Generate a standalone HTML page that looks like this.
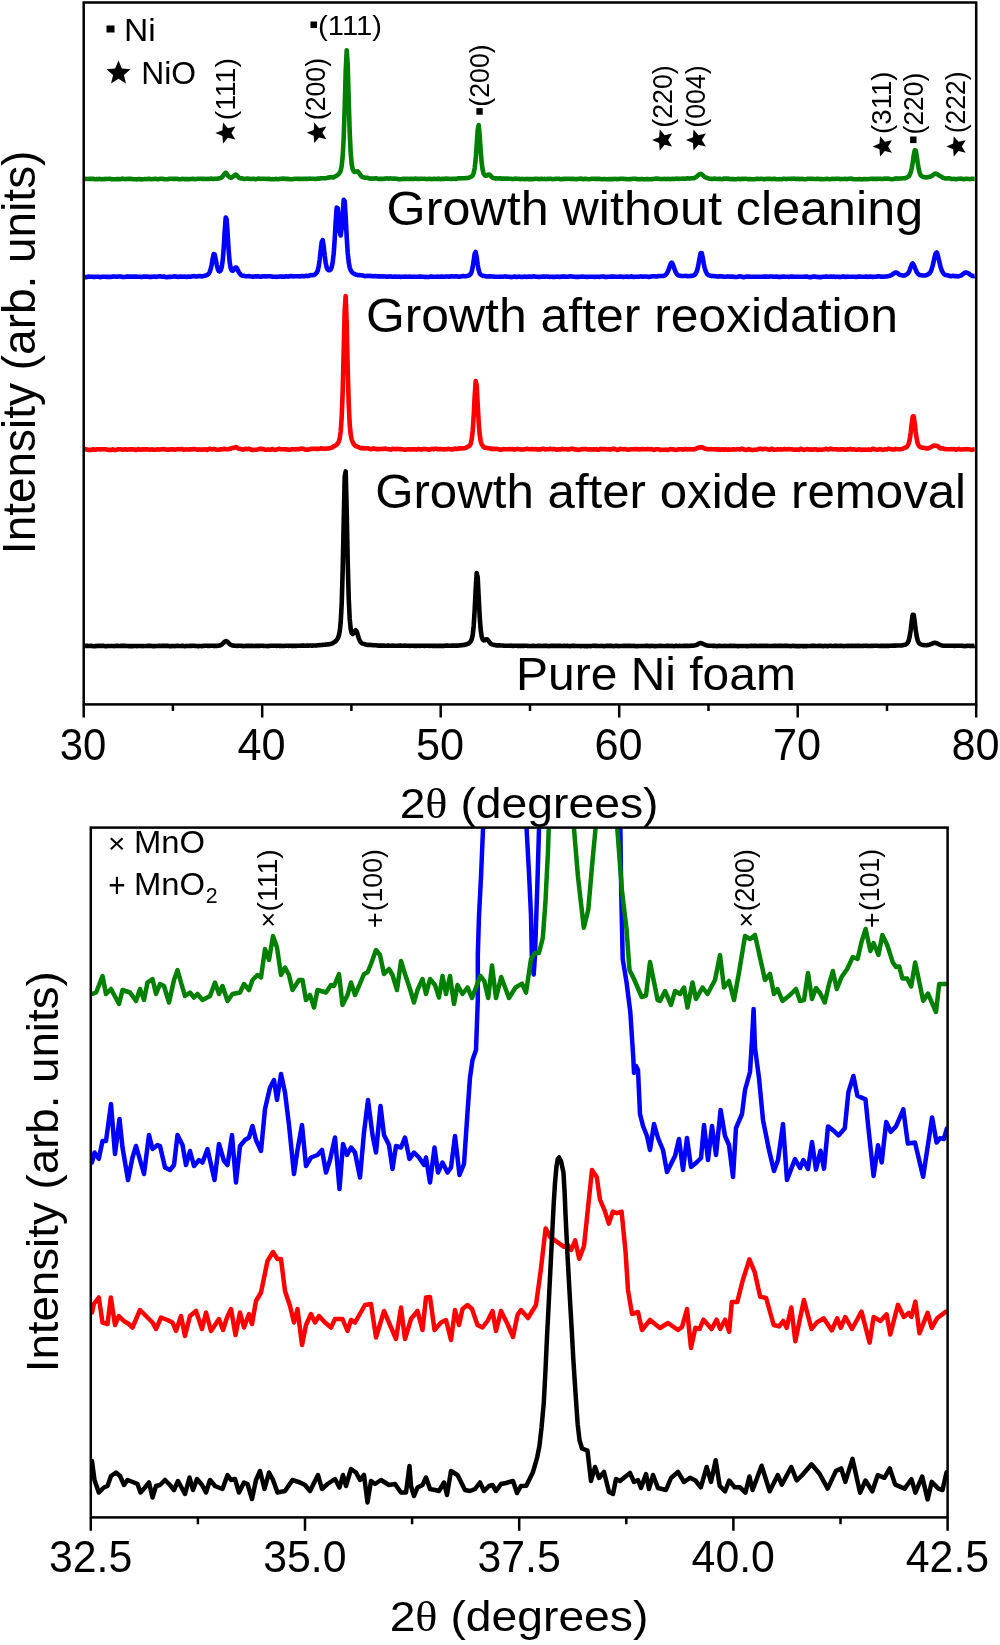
<!DOCTYPE html><html><head><meta charset="utf-8"><style>html,body{margin:0;padding:0;background:#fff;}svg{display:block;will-change:transform;}text{font-family:"Liberation Sans",sans-serif;fill:#000;}</style></head><body>
<svg width="1000" height="1645" viewBox="0 0 1000 1645">
<rect width="1000" height="1645" fill="#fff"/>
<defs><clipPath id="ct"><rect x="83.7" y="2.5" width="892.5" height="701.9"/></clipPath>
<clipPath id="cb"><rect x="90.8" y="827.6" width="856.8" height="689.8"/></clipPath></defs>
<g clip-path="url(#ct)" fill="none" stroke-linejoin="round" stroke-width="4.6">
<path stroke="#008000" d="M84.7 178.8L85.7 178.9L86.7 179.0L87.7 179.0L88.7 179.0L89.7 178.7L90.7 178.7L91.7 179.0L92.7 178.9L93.7 178.9L94.7 179.2L95.7 179.2L96.7 179.1L97.7 179.1L98.7 179.0L99.7 178.9L100.7 179.1L101.7 179.2L102.7 179.1L103.7 179.2L104.7 179.0L105.7 178.9L106.7 179.0L107.7 179.0L108.7 178.8L109.7 178.8L110.7 179.0L111.7 179.1L112.7 179.2L113.7 179.3L114.7 179.3L115.7 179.2L116.7 179.1L117.7 179.1L118.7 179.1L119.7 179.3L120.7 179.2L121.7 178.8L122.7 178.6L123.7 178.9L124.7 179.1L125.7 179.1L126.7 179.0L127.7 178.9L128.7 178.9L129.7 178.9L130.7 178.9L131.7 179.0L132.7 179.1L133.7 179.2L134.7 179.3L135.7 179.3L136.7 179.4L137.7 179.3L138.7 179.1L139.7 179.0L140.7 179.2L141.7 179.4L142.7 179.3L143.7 179.2L144.7 179.0L145.7 179.0L146.7 179.1L147.7 179.0L148.7 178.8L149.7 178.8L150.7 179.2L151.7 179.2L152.7 179.0L153.7 179.0L154.7 178.9L155.7 178.7L156.7 178.9L157.7 179.2L158.7 179.1L159.7 178.9L160.7 178.8L161.7 178.8L162.7 178.9L163.7 179.0L164.7 179.2L165.7 179.3L166.7 179.2L167.7 179.2L168.7 178.9L169.7 178.8L170.7 178.8L171.7 178.7L172.7 178.7L173.7 178.9L174.7 178.9L175.7 178.7L176.7 178.8L177.7 179.0L178.7 179.1L179.7 179.2L180.7 179.2L181.7 179.0L182.7 178.9L183.7 179.0L184.7 179.1L185.7 179.1L186.7 179.0L187.7 179.1L188.7 179.2L189.7 179.1L190.7 179.0L191.7 179.0L192.7 178.8L193.7 178.9L194.7 179.1L195.7 179.1L196.7 178.9L197.7 178.7L198.7 178.8L199.7 178.8L200.7 178.8L201.7 178.9L202.7 178.9L203.7 178.8L204.7 178.9L205.7 179.0L206.7 179.0L207.7 178.9L208.7 179.0L209.7 178.9L210.7 178.6L211.7 178.6L212.7 178.9L213.7 179.0L214.7 178.8L215.7 178.7L216.7 178.7L217.7 178.6L218.7 178.4L219.7 178.3L220.7 178.0L221.7 177.5L222.7 176.3L223.7 174.9L224.7 173.5L225.7 172.7L226.7 173.7L227.7 175.3L228.7 176.4L229.7 177.3L230.7 177.7L231.7 177.5L232.7 176.8L233.7 176.1L234.7 175.2L235.7 174.6L236.7 175.1L237.7 176.3L238.7 177.4L239.7 178.1L240.7 178.4L241.7 178.4L242.7 178.5L243.7 178.9L244.7 179.0L245.7 178.8L246.7 178.6L247.7 178.6L248.7 178.7L249.7 178.8L250.7 179.0L251.7 179.0L252.7 178.8L253.7 178.8L254.7 179.0L255.7 179.1L256.7 179.0L257.7 178.8L258.7 178.6L259.7 178.8L260.7 178.9L261.7 178.8L262.7 178.8L263.7 178.8L264.7 178.8L265.7 179.0L266.7 179.0L267.7 178.7L268.7 178.7L269.7 179.1L270.7 179.3L271.7 179.2L272.7 179.1L273.7 179.2L274.7 179.2L275.7 178.9L276.7 179.0L277.7 179.2L278.7 179.1L279.7 178.9L280.7 178.8L281.7 178.7L282.7 178.6L283.7 178.6L284.7 178.8L285.7 178.9L286.7 178.9L287.7 178.8L288.7 179.0L289.7 179.2L290.7 179.2L291.7 179.3L292.7 179.2L293.7 178.9L294.7 178.7L295.7 178.8L296.7 178.7L297.7 178.7L298.7 178.9L299.7 178.9L300.7 178.9L301.7 179.0L302.7 178.9L303.7 178.7L304.7 178.7L305.7 178.9L306.7 178.9L307.7 178.9L308.7 178.7L309.7 178.6L310.7 178.7L311.7 178.8L312.7 178.7L313.7 178.8L314.7 179.0L315.7 179.0L316.7 178.7L317.7 178.5L318.7 178.6L319.7 178.6L320.7 178.3L321.7 178.2L322.7 178.2L323.7 178.3L324.7 178.2L325.7 178.3L326.7 178.1L327.7 177.8L328.7 177.5L329.7 177.4L330.7 177.3L331.7 177.3L332.7 177.5L333.7 177.2L334.7 176.6L335.7 176.2L336.7 175.6L337.7 174.9L338.7 174.0L339.7 172.8L340.7 170.5L341.7 165.8L342.7 156.1L343.7 137.5L344.7 107.3L345.7 71.3L346.7 50.2L347.7 64.8L348.7 100.0L349.7 132.1L350.7 153.1L351.7 164.2L352.7 169.2L353.7 171.3L354.7 172.0L355.7 171.8L356.7 171.2L357.7 171.2L358.7 172.4L359.7 174.1L360.7 175.5L361.7 176.5L362.7 177.0L363.7 177.3L364.7 177.7L365.7 177.8L366.7 177.8L367.7 177.9L368.7 178.2L369.7 178.5L370.7 178.6L371.7 178.5L372.7 178.6L373.7 178.6L374.7 178.4L375.7 178.4L376.7 178.4L377.7 178.7L378.7 178.9L379.7 178.9L380.7 178.9L381.7 178.9L382.7 178.9L383.7 178.7L384.7 178.6L385.7 178.6L386.7 178.4L387.7 178.5L388.7 178.7L389.7 178.5L390.7 178.4L391.7 178.6L392.7 178.8L393.7 178.6L394.7 178.6L395.7 178.8L396.7 178.8L397.7 179.0L398.7 179.1L399.7 179.2L400.7 179.2L401.7 179.1L402.7 178.9L403.7 178.8L404.7 178.9L405.7 179.0L406.7 178.9L407.7 178.8L408.7 179.0L409.7 179.0L410.7 178.7L411.7 178.7L412.7 178.9L413.7 179.0L414.7 178.8L415.7 178.6L416.7 178.7L417.7 178.9L418.7 179.0L419.7 178.9L420.7 178.8L421.7 178.8L422.7 178.8L423.7 178.7L424.7 178.7L425.7 178.9L426.7 179.1L427.7 179.0L428.7 178.9L429.7 178.8L430.7 179.0L431.7 179.1L432.7 179.0L433.7 178.9L434.7 178.9L435.7 179.0L436.7 179.0L437.7 178.7L438.7 178.6L439.7 179.0L440.7 179.1L441.7 178.9L442.7 178.9L443.7 178.9L444.7 178.7L445.7 178.6L446.7 178.6L447.7 178.7L448.7 178.7L449.7 178.7L450.7 178.9L451.7 179.0L452.7 178.8L453.7 178.8L454.7 178.8L455.7 178.9L456.7 178.7L457.7 178.5L458.7 178.3L459.7 178.3L460.7 178.4L461.7 178.3L462.7 178.2L463.7 178.2L464.7 178.2L465.7 178.1L466.7 178.0L467.7 178.0L468.7 177.7L469.7 177.3L470.7 176.9L471.7 176.4L472.7 175.4L473.7 173.0L474.7 168.1L475.7 159.1L476.7 145.0L477.7 129.8L478.7 125.0L479.7 135.6L480.7 150.9L481.7 162.9L482.7 170.1L483.7 173.8L484.7 175.3L485.7 175.9L486.7 175.6L487.7 174.9L488.7 174.5L489.7 174.8L490.7 175.8L491.7 177.0L492.7 177.8L493.7 178.2L494.7 178.2L495.7 178.4L496.7 178.4L497.7 178.5L498.7 178.5L499.7 178.4L500.7 178.4L501.7 178.7L502.7 178.6L503.7 178.6L504.7 178.8L505.7 178.8L506.7 178.5L507.7 178.6L508.7 178.7L509.7 178.7L510.7 178.7L511.7 178.9L512.7 179.1L513.7 178.9L514.7 178.8L515.7 178.6L516.7 178.7L517.7 178.8L518.7 178.8L519.7 179.1L520.7 179.1L521.7 178.9L522.7 179.0L523.7 179.0L524.7 179.1L525.7 179.1L526.7 178.9L527.7 179.0L528.7 179.1L529.7 179.1L530.7 179.0L531.7 179.1L532.7 179.3L533.7 179.1L534.7 178.9L535.7 178.8L536.7 178.8L537.7 178.9L538.7 179.1L539.7 179.1L540.7 178.9L541.7 178.8L542.7 179.0L543.7 179.0L544.7 178.9L545.7 179.1L546.7 179.0L547.7 178.9L548.7 179.0L549.7 178.8L550.7 178.8L551.7 179.0L552.7 179.1L553.7 179.0L554.7 179.0L555.7 178.9L556.7 178.8L557.7 178.7L558.7 178.7L559.7 179.0L560.7 179.2L561.7 179.1L562.7 179.1L563.7 178.9L564.7 178.8L565.7 178.9L566.7 179.0L567.7 178.8L568.7 178.8L569.7 178.9L570.7 179.0L571.7 178.9L572.7 178.8L573.7 178.9L574.7 179.0L575.7 179.1L576.7 179.1L577.7 179.0L578.7 178.8L579.7 178.7L580.7 178.6L581.7 178.8L582.7 179.1L583.7 179.1L584.7 178.8L585.7 178.7L586.7 178.9L587.7 179.1L588.7 179.2L589.7 179.2L590.7 179.0L591.7 178.8L592.7 178.8L593.7 178.8L594.7 178.9L595.7 178.9L596.7 178.8L597.7 178.9L598.7 178.9L599.7 178.9L600.7 179.1L601.7 179.3L602.7 179.3L603.7 179.0L604.7 179.0L605.7 179.1L606.7 179.2L607.7 179.3L608.7 179.1L609.7 179.0L610.7 179.1L611.7 179.1L612.7 179.1L613.7 179.0L614.7 178.9L615.7 179.0L616.7 179.1L617.7 179.0L618.7 179.0L619.7 178.9L620.7 178.8L621.7 178.8L622.7 178.8L623.7 178.9L624.7 179.0L625.7 179.0L626.7 179.1L627.7 179.3L628.7 179.2L629.7 179.0L630.7 179.1L631.7 179.0L632.7 178.8L633.7 178.7L634.7 178.7L635.7 178.7L636.7 179.0L637.7 179.2L638.7 179.1L639.7 179.2L640.7 179.1L641.7 178.9L642.7 179.1L643.7 179.2L644.7 179.3L645.7 179.2L646.7 179.1L647.7 179.0L648.7 179.2L649.7 179.3L650.7 179.2L651.7 179.1L652.7 179.1L653.7 178.9L654.7 178.7L655.7 178.6L656.7 178.6L657.7 178.6L658.7 178.7L659.7 178.9L660.7 179.1L661.7 179.0L662.7 179.0L663.7 179.0L664.7 178.9L665.7 179.0L666.7 179.1L667.7 178.9L668.7 178.9L669.7 179.1L670.7 179.1L671.7 178.9L672.7 178.9L673.7 179.0L674.7 178.9L675.7 178.7L676.7 178.6L677.7 178.7L678.7 178.9L679.7 178.8L680.7 178.7L681.7 178.7L682.7 178.6L683.7 178.6L684.7 178.7L685.7 178.6L686.7 178.4L687.7 178.4L688.7 178.5L689.7 178.6L690.7 178.4L691.7 178.3L692.7 178.3L693.7 178.3L694.7 177.9L695.7 177.3L696.7 176.6L697.7 175.7L698.7 174.8L699.7 174.2L700.7 173.9L701.7 174.2L702.7 175.1L703.7 176.1L704.7 177.0L705.7 177.5L706.7 177.8L707.7 178.1L708.7 178.5L709.7 178.7L710.7 178.8L711.7 178.9L712.7 179.0L713.7 178.8L714.7 178.6L715.7 178.8L716.7 179.0L717.7 179.0L718.7 178.8L719.7 178.7L720.7 179.0L721.7 179.2L722.7 179.0L723.7 178.6L724.7 178.5L725.7 178.6L726.7 178.6L727.7 178.5L728.7 178.7L729.7 179.0L730.7 179.1L731.7 179.0L732.7 179.1L733.7 179.1L734.7 179.2L735.7 179.3L736.7 179.2L737.7 178.8L738.7 178.8L739.7 179.1L740.7 179.1L741.7 178.8L742.7 178.9L743.7 179.0L744.7 178.8L745.7 178.8L746.7 178.9L747.7 179.1L748.7 179.1L749.7 179.0L750.7 179.1L751.7 179.2L752.7 179.2L753.7 179.2L754.7 179.2L755.7 179.0L756.7 178.8L757.7 178.9L758.7 179.0L759.7 179.0L760.7 178.8L761.7 178.8L762.7 179.0L763.7 179.1L764.7 179.1L765.7 179.0L766.7 178.9L767.7 178.9L768.7 178.9L769.7 178.8L770.7 178.9L771.7 179.1L772.7 179.0L773.7 178.8L774.7 178.8L775.7 179.1L776.7 179.2L777.7 179.3L778.7 179.2L779.7 179.1L780.7 179.2L781.7 179.2L782.7 178.9L783.7 178.8L784.7 178.7L785.7 178.9L786.7 179.1L787.7 178.9L788.7 178.8L789.7 178.7L790.7 178.7L791.7 178.9L792.7 178.8L793.7 178.6L794.7 178.7L795.7 179.0L796.7 178.9L797.7 178.7L798.7 178.8L799.7 179.1L800.7 179.0L801.7 178.9L802.7 179.0L803.7 179.1L804.7 179.2L805.7 179.2L806.7 179.0L807.7 178.8L808.7 178.7L809.7 178.8L810.7 178.9L811.7 178.8L812.7 178.8L813.7 179.0L814.7 179.0L815.7 179.0L816.7 178.9L817.7 178.8L818.7 178.9L819.7 179.1L820.7 179.1L821.7 179.1L822.7 179.2L823.7 179.2L824.7 179.0L825.7 179.0L826.7 178.9L827.7 178.9L828.7 179.1L829.7 179.2L830.7 179.1L831.7 178.9L832.7 178.9L833.7 179.0L834.7 179.0L835.7 178.8L836.7 178.8L837.7 178.8L838.7 178.8L839.7 179.0L840.7 179.1L841.7 179.0L842.7 179.0L843.7 179.0L844.7 178.8L845.7 178.9L846.7 179.1L847.7 179.0L848.7 178.8L849.7 178.7L850.7 178.6L851.7 178.8L852.7 179.1L853.7 179.3L854.7 179.3L855.7 179.3L856.7 179.2L857.7 179.2L858.7 179.1L859.7 179.0L860.7 179.2L861.7 179.4L862.7 179.3L863.7 179.1L864.7 179.0L865.7 179.1L866.7 179.3L867.7 179.2L868.7 179.0L869.7 179.0L870.7 178.8L871.7 178.7L872.7 178.9L873.7 178.9L874.7 178.9L875.7 178.9L876.7 178.8L877.7 178.9L878.7 178.8L879.7 178.8L880.7 178.9L881.7 179.0L882.7 179.0L883.7 178.7L884.7 178.6L885.7 178.6L886.7 178.7L887.7 178.5L888.7 178.6L889.7 178.9L890.7 179.1L891.7 179.2L892.7 179.2L893.7 179.0L894.7 178.7L895.7 178.4L896.7 178.5L897.7 178.6L898.7 178.6L899.7 178.5L900.7 178.5L901.7 178.5L902.7 178.3L903.7 178.2L904.7 178.3L905.7 178.0L906.7 177.5L907.7 177.0L908.7 176.4L909.7 174.9L910.7 172.4L911.7 168.6L912.7 162.7L913.7 155.7L914.7 150.3L915.7 150.5L916.7 155.9L917.7 162.9L918.7 168.9L919.7 173.0L920.7 175.2L921.7 176.1L922.7 176.6L923.7 177.0L924.7 177.3L925.7 177.4L926.7 177.4L927.7 177.3L928.7 177.1L929.7 176.8L930.7 176.5L931.7 176.0L932.7 175.3L933.7 174.4L934.7 173.8L935.7 173.6L936.7 174.0L937.7 174.5L938.7 175.3L939.7 175.9L940.7 176.3L941.7 176.9L942.7 177.6L943.7 178.1L944.7 178.3L945.7 178.5L946.7 178.5L947.7 178.4L948.7 178.3L949.7 178.4L950.7 178.7L951.7 179.0L952.7 179.0L953.7 178.9L954.7 179.0L955.7 179.1L956.7 179.1L957.7 178.9L958.7 178.8L959.7 178.8L960.7 178.6L961.7 178.7L962.7 179.0L963.7 179.2L964.7 179.0L965.7 178.8L966.7 178.8L967.7 178.9L968.7 179.0L969.7 179.1L970.7 179.0L971.7 178.8L972.7 178.8L973.7 178.9L974.7 178.9"/>
<path stroke="#0000ff" d="M84.7 277.1L85.7 277.1L86.7 277.1L87.7 276.8L88.7 276.6L89.7 276.7L90.7 276.8L91.7 276.7L92.7 276.7L93.7 276.9L94.7 276.9L95.7 276.7L96.7 276.7L97.7 276.8L98.7 276.8L99.7 277.1L100.7 277.1L101.7 276.9L102.7 276.8L103.7 276.8L104.7 276.7L105.7 276.7L106.7 276.9L107.7 276.7L108.7 276.7L109.7 277.0L110.7 277.0L111.7 276.8L112.7 276.6L113.7 276.5L114.7 276.5L115.7 276.7L116.7 276.8L117.7 276.6L118.7 276.5L119.7 276.5L120.7 276.5L121.7 276.7L122.7 277.0L123.7 277.0L124.7 277.0L125.7 276.8L126.7 276.5L127.7 276.6L128.7 276.8L129.7 276.6L130.7 276.5L131.7 276.6L132.7 276.7L133.7 276.6L134.7 276.5L135.7 276.6L136.7 276.8L137.7 276.8L138.7 276.8L139.7 276.8L140.7 276.9L141.7 277.0L142.7 276.8L143.7 276.5L144.7 276.5L145.7 276.7L146.7 276.6L147.7 276.6L148.7 276.9L149.7 276.9L150.7 276.7L151.7 276.9L152.7 276.8L153.7 276.6L154.7 276.5L155.7 276.7L156.7 276.9L157.7 276.6L158.7 276.4L159.7 276.4L160.7 276.4L161.7 276.7L162.7 276.8L163.7 276.5L164.7 276.6L165.7 277.0L166.7 277.2L167.7 277.0L168.7 276.7L169.7 276.7L170.7 276.9L171.7 276.8L172.7 276.7L173.7 276.5L174.7 276.4L175.7 276.5L176.7 276.8L177.7 276.9L178.7 276.7L179.7 276.6L180.7 276.6L181.7 276.6L182.7 276.7L183.7 276.7L184.7 276.6L185.7 276.7L186.7 276.9L187.7 276.8L188.7 276.6L189.7 276.8L190.7 276.7L191.7 276.4L192.7 276.2L193.7 276.1L194.7 276.3L195.7 276.5L196.7 276.5L197.7 276.4L198.7 276.1L199.7 276.0L200.7 276.3L201.7 276.4L202.7 276.3L203.7 276.1L204.7 275.8L205.7 275.5L206.7 275.1L207.7 274.6L208.7 273.8L209.7 272.0L210.7 269.1L211.7 264.4L212.7 258.6L213.7 254.1L214.7 254.5L215.7 259.2L216.7 264.7L217.7 268.8L218.7 271.0L219.7 271.4L220.7 270.4L221.7 267.3L222.7 260.6L223.7 248.1L224.7 231.2L225.7 217.6L226.7 219.6L227.7 235.0L228.7 251.3L229.7 262.4L230.7 268.3L231.7 270.5L232.7 270.7L233.7 269.8L234.7 268.5L235.7 267.5L236.7 267.9L237.7 269.9L238.7 272.0L239.7 273.5L240.7 274.7L241.7 275.5L242.7 275.7L243.7 275.7L244.7 276.0L245.7 276.2L246.7 276.3L247.7 276.2L248.7 276.1L249.7 276.3L250.7 276.5L251.7 276.5L252.7 276.6L253.7 276.6L254.7 276.4L255.7 276.3L256.7 276.4L257.7 276.4L258.7 276.4L259.7 276.6L260.7 276.7L261.7 276.6L262.7 276.3L263.7 276.3L264.7 276.4L265.7 276.5L266.7 276.3L267.7 276.2L268.7 276.3L269.7 276.3L270.7 276.3L271.7 276.6L272.7 276.8L273.7 276.7L274.7 276.7L275.7 276.8L276.7 276.9L277.7 276.8L278.7 276.7L279.7 276.5L280.7 276.5L281.7 276.6L282.7 276.5L283.7 276.6L284.7 276.6L285.7 276.4L286.7 276.4L287.7 276.6L288.7 276.5L289.7 276.2L290.7 276.1L291.7 276.1L292.7 276.2L293.7 276.4L294.7 276.3L295.7 276.2L296.7 276.2L297.7 276.3L298.7 276.3L299.7 276.4L300.7 276.3L301.7 276.1L302.7 276.1L303.7 276.3L304.7 276.2L305.7 275.8L306.7 275.9L307.7 276.1L308.7 275.9L309.7 275.4L310.7 275.1L311.7 275.2L312.7 275.1L313.7 275.0L314.7 274.6L315.7 273.7L316.7 272.6L317.7 270.6L318.7 266.5L319.7 259.5L320.7 250.4L321.7 242.0L322.7 240.1L323.7 246.3L324.7 255.5L325.7 262.9L326.7 267.4L327.7 269.5L328.7 270.3L329.7 270.3L330.7 269.5L331.7 267.1L332.7 262.2L333.7 253.4L334.7 239.2L335.7 221.5L336.7 207.6L337.7 208.2L338.7 220.4L339.7 232.1L340.7 235.5L341.7 228.3L342.7 213.2L343.7 199.8L344.7 201.1L345.7 217.5L346.7 237.1L347.7 252.4L348.7 262.0L349.7 267.5L350.7 270.2L351.7 271.8L352.7 272.9L353.7 273.5L354.7 274.2L355.7 274.6L356.7 274.7L357.7 275.1L358.7 275.2L359.7 275.1L360.7 275.2L361.7 275.3L362.7 275.6L363.7 275.8L364.7 276.1L365.7 276.1L366.7 275.9L367.7 275.9L368.7 276.0L369.7 275.9L370.7 276.0L371.7 276.1L372.7 276.3L373.7 276.2L374.7 276.1L375.7 276.1L376.7 276.3L377.7 276.4L378.7 276.4L379.7 276.4L380.7 276.4L381.7 276.5L382.7 276.5L383.7 276.4L384.7 276.5L385.7 276.5L386.7 276.6L387.7 276.6L388.7 276.6L389.7 276.5L390.7 276.4L391.7 276.7L392.7 276.8L393.7 276.7L394.7 276.6L395.7 276.6L396.7 276.8L397.7 276.7L398.7 276.6L399.7 276.8L400.7 276.9L401.7 276.8L402.7 276.8L403.7 276.7L404.7 276.5L405.7 276.6L406.7 276.7L407.7 276.8L408.7 276.7L409.7 276.5L410.7 276.7L411.7 276.8L412.7 276.8L413.7 276.8L414.7 276.8L415.7 276.7L416.7 276.7L417.7 276.8L418.7 276.8L419.7 276.5L420.7 276.5L421.7 276.7L422.7 276.7L423.7 276.7L424.7 276.9L425.7 277.0L426.7 276.9L427.7 277.0L428.7 277.0L429.7 276.8L430.7 276.5L431.7 276.5L432.7 276.7L433.7 276.8L434.7 276.7L435.7 276.7L436.7 276.7L437.7 276.6L438.7 276.7L439.7 276.7L440.7 276.6L441.7 276.5L442.7 276.6L443.7 276.7L444.7 276.7L445.7 276.5L446.7 276.5L447.7 276.5L448.7 276.6L449.7 276.6L450.7 276.4L451.7 276.3L452.7 276.4L453.7 276.5L454.7 276.5L455.7 276.3L456.7 276.3L457.7 276.6L458.7 276.8L459.7 276.8L460.7 276.5L461.7 276.3L462.7 276.1L463.7 276.1L464.7 276.2L465.7 276.2L466.7 276.0L467.7 275.9L468.7 275.5L469.7 274.8L470.7 273.8L471.7 271.6L472.7 267.0L473.7 260.4L474.7 253.6L475.7 251.9L476.7 257.4L477.7 264.8L478.7 270.3L479.7 273.4L480.7 274.7L481.7 275.2L482.7 275.7L483.7 276.0L484.7 276.0L485.7 276.2L486.7 276.5L487.7 276.5L488.7 276.4L489.7 276.4L490.7 276.4L491.7 276.5L492.7 276.5L493.7 276.6L494.7 276.8L495.7 276.8L496.7 276.7L497.7 276.7L498.7 276.7L499.7 276.7L500.7 276.6L501.7 276.7L502.7 276.7L503.7 276.6L504.7 276.4L505.7 276.5L506.7 276.6L507.7 276.7L508.7 276.8L509.7 276.9L510.7 277.0L511.7 277.1L512.7 276.9L513.7 276.6L514.7 276.5L515.7 276.7L516.7 277.0L517.7 276.9L518.7 276.6L519.7 276.6L520.7 276.9L521.7 277.0L522.7 276.9L523.7 276.8L524.7 276.6L525.7 276.7L526.7 276.9L527.7 276.8L528.7 276.5L529.7 276.5L530.7 276.8L531.7 276.9L532.7 276.6L533.7 276.3L534.7 276.5L535.7 276.8L536.7 276.8L537.7 276.8L538.7 277.0L539.7 276.9L540.7 276.7L541.7 276.7L542.7 276.5L543.7 276.6L544.7 276.7L545.7 276.5L546.7 276.5L547.7 276.6L548.7 276.8L549.7 276.9L550.7 276.8L551.7 276.8L552.7 276.9L553.7 276.9L554.7 276.9L555.7 276.8L556.7 276.7L557.7 276.6L558.7 276.7L559.7 276.9L560.7 276.7L561.7 276.6L562.7 276.6L563.7 276.5L564.7 276.6L565.7 276.8L566.7 276.8L567.7 276.8L568.7 276.6L569.7 276.4L570.7 276.4L571.7 276.5L572.7 276.6L573.7 276.7L574.7 276.7L575.7 276.9L576.7 276.9L577.7 276.9L578.7 276.9L579.7 276.8L580.7 276.7L581.7 276.6L582.7 276.6L583.7 276.8L584.7 276.7L585.7 276.7L586.7 276.9L587.7 276.9L588.7 276.8L589.7 276.7L590.7 276.7L591.7 276.8L592.7 276.7L593.7 276.7L594.7 276.9L595.7 276.7L596.7 276.7L597.7 276.7L598.7 276.7L599.7 276.9L600.7 276.7L601.7 276.5L602.7 276.5L603.7 276.6L604.7 276.8L605.7 277.1L606.7 276.9L607.7 276.7L608.7 276.7L609.7 276.7L610.7 276.6L611.7 276.6L612.7 276.5L613.7 276.6L614.7 276.6L615.7 276.7L616.7 276.8L617.7 276.8L618.7 276.8L619.7 276.6L620.7 276.5L621.7 276.8L622.7 276.9L623.7 276.9L624.7 276.8L625.7 276.7L626.7 276.6L627.7 276.7L628.7 276.9L629.7 276.8L630.7 276.5L631.7 276.4L632.7 276.8L633.7 277.0L634.7 276.8L635.7 276.8L636.7 276.8L637.7 276.7L638.7 276.7L639.7 276.6L640.7 276.4L641.7 276.5L642.7 276.7L643.7 276.6L644.7 276.5L645.7 276.5L646.7 276.6L647.7 276.7L648.7 276.9L649.7 276.9L650.7 276.6L651.7 276.4L652.7 276.3L653.7 276.2L654.7 276.3L655.7 276.5L656.7 276.5L657.7 276.3L658.7 276.1L659.7 276.0L660.7 276.0L661.7 276.0L662.7 276.0L663.7 275.9L664.7 275.5L665.7 274.7L666.7 273.5L667.7 271.8L668.7 269.5L669.7 266.5L670.7 263.7L671.7 262.7L672.7 264.0L673.7 266.7L674.7 269.7L675.7 272.1L676.7 273.9L677.7 275.0L678.7 275.5L679.7 275.6L680.7 275.9L681.7 276.0L682.7 276.0L683.7 276.0L684.7 276.0L685.7 275.9L686.7 276.0L687.7 276.2L688.7 276.3L689.7 276.1L690.7 275.9L691.7 275.9L692.7 275.8L693.7 275.4L694.7 274.8L695.7 273.5L696.7 271.6L697.7 268.2L698.7 263.0L699.7 257.4L700.7 253.1L701.7 253.0L702.7 257.5L703.7 263.4L704.7 268.1L705.7 271.2L706.7 273.4L707.7 274.7L708.7 275.2L709.7 275.4L710.7 275.8L711.7 276.1L712.7 276.0L713.7 276.0L714.7 276.3L715.7 276.3L716.7 276.4L717.7 276.6L718.7 276.4L719.7 276.3L720.7 276.5L721.7 276.4L722.7 276.5L723.7 276.7L724.7 276.7L725.7 276.7L726.7 276.6L727.7 276.4L728.7 276.5L729.7 276.6L730.7 276.7L731.7 276.6L732.7 276.6L733.7 276.7L734.7 276.9L735.7 277.0L736.7 277.0L737.7 276.8L738.7 276.5L739.7 276.4L740.7 276.4L741.7 276.6L742.7 277.0L743.7 277.1L744.7 277.0L745.7 276.8L746.7 276.5L747.7 276.5L748.7 276.6L749.7 276.8L750.7 276.7L751.7 276.7L752.7 276.8L753.7 276.8L754.7 276.8L755.7 276.8L756.7 276.7L757.7 276.7L758.7 276.8L759.7 276.8L760.7 276.7L761.7 276.8L762.7 276.8L763.7 276.6L764.7 276.5L765.7 276.6L766.7 276.6L767.7 276.8L768.7 276.7L769.7 276.5L770.7 276.5L771.7 276.5L772.7 276.6L773.7 276.7L774.7 276.7L775.7 276.6L776.7 276.6L777.7 276.8L778.7 276.9L779.7 276.9L780.7 276.9L781.7 276.7L782.7 276.5L783.7 276.6L784.7 276.8L785.7 276.8L786.7 276.7L787.7 276.8L788.7 276.9L789.7 276.8L790.7 276.6L791.7 276.6L792.7 276.5L793.7 276.7L794.7 276.8L795.7 276.7L796.7 276.7L797.7 276.8L798.7 276.8L799.7 276.8L800.7 276.8L801.7 276.8L802.7 276.8L803.7 276.8L804.7 276.8L805.7 276.6L806.7 276.5L807.7 276.8L808.7 277.0L809.7 277.1L810.7 277.1L811.7 277.0L812.7 276.6L813.7 276.5L814.7 276.6L815.7 276.8L816.7 276.9L817.7 276.9L818.7 277.1L819.7 277.1L820.7 277.1L821.7 277.0L822.7 276.8L823.7 276.7L824.7 276.8L825.7 276.6L826.7 276.5L827.7 276.8L828.7 276.8L829.7 276.7L830.7 276.5L831.7 276.6L832.7 276.7L833.7 276.6L834.7 276.8L835.7 276.9L836.7 276.8L837.7 276.8L838.7 276.9L839.7 276.9L840.7 277.0L841.7 276.8L842.7 276.5L843.7 276.5L844.7 276.8L845.7 276.9L846.7 276.7L847.7 276.6L848.7 276.7L849.7 276.8L850.7 276.8L851.7 276.8L852.7 276.7L853.7 276.7L854.7 276.8L855.7 277.0L856.7 276.9L857.7 276.6L858.7 276.5L859.7 276.6L860.7 276.8L861.7 276.8L862.7 276.7L863.7 276.7L864.7 276.8L865.7 276.6L866.7 276.6L867.7 276.9L868.7 276.8L869.7 276.6L870.7 276.5L871.7 276.8L872.7 276.9L873.7 276.7L874.7 276.7L875.7 276.8L876.7 276.6L877.7 276.4L878.7 276.3L879.7 276.5L880.7 276.6L881.7 276.6L882.7 276.8L883.7 276.7L884.7 276.5L885.7 276.5L886.7 276.5L887.7 276.3L888.7 276.1L889.7 275.9L890.7 275.5L891.7 275.0L892.7 274.2L893.7 273.5L894.7 272.8L895.7 272.5L896.7 272.6L897.7 273.2L898.7 274.1L899.7 274.7L900.7 275.0L901.7 275.2L902.7 275.4L903.7 275.6L904.7 275.4L905.7 275.0L906.7 274.4L907.7 273.7L908.7 272.4L909.7 270.1L910.7 267.2L911.7 264.5L912.7 263.5L913.7 264.8L914.7 267.2L915.7 269.7L916.7 272.0L917.7 273.5L918.7 274.4L919.7 275.1L920.7 275.3L921.7 275.3L922.7 275.5L923.7 275.5L924.7 275.5L925.7 275.4L926.7 275.1L927.7 274.5L928.7 273.9L929.7 273.1L930.7 271.5L931.7 269.1L932.7 265.6L933.7 261.2L934.7 256.7L935.7 253.3L936.7 252.5L937.7 254.9L938.7 259.0L939.7 263.3L940.7 267.4L941.7 270.3L942.7 272.3L943.7 273.7L944.7 274.6L945.7 275.1L946.7 275.3L947.7 275.3L948.7 275.6L949.7 276.0L950.7 276.2L951.7 276.0L952.7 275.9L953.7 276.0L954.7 276.1L955.7 276.0L956.7 276.3L957.7 276.4L958.7 276.2L959.7 275.9L960.7 275.6L961.7 275.1L962.7 274.3L963.7 273.5L964.7 272.8L965.7 272.5L966.7 272.6L967.7 272.9L968.7 273.5L969.7 274.3L970.7 275.0L971.7 275.6L972.7 276.0L973.7 276.1L974.7 276.0"/>
<path stroke="#ff0000" d="M84.7 449.1L85.7 449.2L86.7 449.4L87.7 449.7L88.7 449.9L89.7 449.9L90.7 449.9L91.7 449.7L92.7 449.4L93.7 449.4L94.7 449.7L95.7 449.7L96.7 449.4L97.7 449.3L98.7 449.3L99.7 449.4L100.7 449.4L101.7 449.2L102.7 449.3L103.7 449.3L104.7 449.2L105.7 449.3L106.7 449.6L107.7 449.9L108.7 449.9L109.7 449.8L110.7 449.9L111.7 449.7L112.7 449.4L113.7 449.7L114.7 450.0L115.7 450.0L116.7 449.8L117.7 449.3L118.7 449.2L119.7 449.3L120.7 449.3L121.7 449.5L122.7 449.7L123.7 449.6L124.7 449.3L125.7 449.3L126.7 449.7L127.7 449.6L128.7 449.4L129.7 449.4L130.7 449.4L131.7 449.5L132.7 449.4L133.7 449.4L134.7 449.8L135.7 450.0L136.7 449.7L137.7 449.2L138.7 449.1L139.7 449.6L140.7 449.8L141.7 449.5L142.7 449.3L143.7 449.5L144.7 449.4L145.7 449.3L146.7 449.4L147.7 449.4L148.7 449.6L149.7 449.8L150.7 449.7L151.7 449.3L152.7 449.5L153.7 449.8L154.7 449.7L155.7 449.7L156.7 449.5L157.7 449.3L158.7 449.5L159.7 449.6L160.7 449.4L161.7 449.3L162.7 449.3L163.7 449.1L164.7 449.2L165.7 449.4L166.7 449.8L167.7 449.8L168.7 449.6L169.7 449.5L170.7 449.4L171.7 449.2L172.7 449.3L173.7 449.6L174.7 449.8L175.7 449.5L176.7 449.3L177.7 449.3L178.7 449.1L179.7 449.2L180.7 449.2L181.7 449.0L182.7 449.3L183.7 449.7L184.7 449.6L185.7 449.4L186.7 449.5L187.7 449.5L188.7 449.6L189.7 449.3L190.7 449.2L191.7 449.4L192.7 449.1L193.7 449.1L194.7 449.3L195.7 449.2L196.7 449.4L197.7 449.7L198.7 449.5L199.7 449.4L200.7 449.6L201.7 449.8L202.7 449.6L203.7 449.4L204.7 449.2L205.7 449.4L206.7 449.9L207.7 449.7L208.7 449.0L209.7 448.8L210.7 449.1L211.7 449.4L212.7 449.1L213.7 449.1L214.7 449.3L215.7 449.4L216.7 449.6L217.7 449.7L218.7 449.8L219.7 449.6L220.7 449.3L221.7 449.4L222.7 449.2L223.7 448.9L224.7 448.9L225.7 449.3L226.7 449.3L227.7 449.2L228.7 449.2L229.7 448.9L230.7 448.5L231.7 448.1L232.7 447.9L233.7 447.9L234.7 447.4L235.7 447.1L236.7 447.5L237.7 448.2L238.7 448.7L239.7 448.9L240.7 449.0L241.7 449.3L242.7 449.6L243.7 449.5L244.7 449.1L245.7 448.7L246.7 448.9L247.7 449.1L248.7 448.8L249.7 448.9L250.7 449.5L251.7 449.9L252.7 449.9L253.7 449.8L254.7 449.7L255.7 449.7L256.7 449.7L257.7 449.4L258.7 449.1L259.7 448.8L260.7 448.7L261.7 448.9L262.7 449.0L263.7 449.2L264.7 449.6L265.7 449.7L266.7 449.7L267.7 449.6L268.7 449.4L269.7 449.7L270.7 449.7L271.7 449.2L272.7 449.0L273.7 449.6L274.7 449.9L275.7 449.7L276.7 449.4L277.7 449.2L278.7 448.9L279.7 448.9L280.7 449.2L281.7 449.3L282.7 449.2L283.7 449.3L284.7 449.3L285.7 449.4L286.7 449.4L287.7 449.5L288.7 449.8L289.7 449.7L290.7 449.5L291.7 449.3L292.7 449.3L293.7 449.3L294.7 449.2L295.7 449.4L296.7 449.3L297.7 449.1L298.7 449.3L299.7 449.1L300.7 448.7L301.7 448.6L302.7 448.6L303.7 448.9L304.7 449.4L305.7 449.7L306.7 449.6L307.7 449.6L308.7 449.6L309.7 449.3L310.7 449.0L311.7 448.7L312.7 448.7L313.7 448.8L314.7 448.8L315.7 448.9L316.7 448.9L317.7 448.9L318.7 448.9L319.7 448.8L320.7 448.4L321.7 448.4L322.7 448.6L323.7 448.5L324.7 448.7L325.7 448.8L326.7 448.5L327.7 448.5L328.7 448.4L329.7 448.2L330.7 447.9L331.7 447.6L332.7 447.1L333.7 446.4L334.7 446.0L335.7 445.4L336.7 444.5L337.7 443.5L338.7 441.8L339.7 438.5L340.7 431.5L341.7 417.1L342.7 390.9L343.7 351.6L344.7 310.1L345.7 296.0L346.7 324.8L347.7 368.5L348.7 403.2L349.7 424.1L350.7 434.7L351.7 439.5L352.7 442.1L353.7 444.0L354.7 445.3L355.7 446.0L356.7 446.4L357.7 446.8L358.7 447.2L359.7 447.7L360.7 448.1L361.7 448.1L362.7 448.0L363.7 448.4L364.7 448.5L365.7 448.2L366.7 448.2L367.7 448.1L368.7 448.4L369.7 448.9L370.7 449.2L371.7 449.0L372.7 448.6L373.7 448.4L374.7 448.7L375.7 449.0L376.7 449.1L377.7 449.0L378.7 449.2L379.7 449.1L380.7 449.0L381.7 449.0L382.7 448.9L383.7 448.9L384.7 448.7L385.7 448.6L386.7 448.9L387.7 449.2L388.7 449.2L389.7 449.3L390.7 449.6L391.7 449.4L392.7 448.8L393.7 448.8L394.7 449.3L395.7 449.2L396.7 448.7L397.7 448.9L398.7 449.1L399.7 449.0L400.7 449.1L401.7 449.3L402.7 449.3L403.7 449.5L404.7 449.8L405.7 449.7L406.7 449.5L407.7 449.3L408.7 449.2L409.7 449.4L410.7 449.5L411.7 449.4L412.7 449.4L413.7 449.3L414.7 449.2L415.7 449.5L416.7 449.6L417.7 449.0L418.7 449.1L419.7 449.4L420.7 449.3L421.7 449.4L422.7 449.3L423.7 449.0L424.7 449.0L425.7 449.1L426.7 449.3L427.7 449.4L428.7 449.7L429.7 449.6L430.7 449.1L431.7 448.9L432.7 449.0L433.7 449.2L434.7 448.9L435.7 448.6L436.7 448.9L437.7 449.3L438.7 449.1L439.7 449.0L440.7 449.1L441.7 449.2L442.7 449.3L443.7 449.4L444.7 449.2L445.7 449.2L446.7 449.3L447.7 449.0L448.7 448.9L449.7 449.2L450.7 449.2L451.7 449.4L452.7 449.4L453.7 449.0L454.7 448.6L455.7 448.7L456.7 449.0L457.7 448.9L458.7 448.5L459.7 448.3L460.7 448.4L461.7 448.6L462.7 448.3L463.7 448.2L464.7 448.2L465.7 447.9L466.7 447.4L467.7 446.8L468.7 446.2L469.7 445.6L470.7 443.8L471.7 439.3L472.7 430.7L473.7 415.9L474.7 395.9L475.7 381.1L476.7 385.8L477.7 404.5L478.7 422.6L479.7 434.7L480.7 441.4L481.7 444.2L482.7 445.7L483.7 447.1L484.7 447.7L485.7 447.8L486.7 447.8L487.7 448.2L488.7 448.2L489.7 448.2L490.7 448.8L491.7 449.0L492.7 448.6L493.7 448.8L494.7 449.1L495.7 448.9L496.7 448.9L497.7 449.1L498.7 449.3L499.7 449.6L500.7 449.7L501.7 449.6L502.7 449.3L503.7 449.1L504.7 449.2L505.7 449.3L506.7 449.2L507.7 449.2L508.7 449.0L509.7 449.1L510.7 449.4L511.7 449.1L512.7 449.1L513.7 449.5L514.7 449.5L515.7 449.4L516.7 449.1L517.7 448.9L518.7 449.1L519.7 449.4L520.7 449.4L521.7 449.5L522.7 449.5L523.7 449.4L524.7 449.2L525.7 449.0L526.7 448.9L527.7 448.9L528.7 449.1L529.7 449.2L530.7 449.2L531.7 449.0L532.7 449.0L533.7 449.3L534.7 449.4L535.7 449.1L536.7 449.2L537.7 449.6L538.7 449.4L539.7 449.4L540.7 449.5L541.7 449.1L542.7 448.7L543.7 448.8L544.7 449.3L545.7 449.5L546.7 449.2L547.7 449.2L548.7 449.3L549.7 448.9L550.7 448.9L551.7 449.1L552.7 449.1L553.7 449.1L554.7 449.1L555.7 449.4L556.7 449.7L557.7 449.4L558.7 449.2L559.7 449.5L560.7 449.4L561.7 449.0L562.7 448.9L563.7 449.2L564.7 449.2L565.7 449.3L566.7 449.3L567.7 449.4L568.7 449.5L569.7 449.3L570.7 448.9L571.7 448.8L572.7 448.8L573.7 449.1L574.7 449.5L575.7 449.4L576.7 449.5L577.7 449.9L578.7 450.0L579.7 449.7L580.7 449.2L581.7 449.1L582.7 449.2L583.7 449.1L584.7 449.0L585.7 449.0L586.7 449.2L587.7 449.5L588.7 449.5L589.7 449.4L590.7 449.4L591.7 449.5L592.7 449.4L593.7 449.2L594.7 449.4L595.7 449.4L596.7 449.4L597.7 449.8L598.7 449.7L599.7 449.2L600.7 448.9L601.7 449.1L602.7 449.3L603.7 449.1L604.7 449.0L605.7 449.2L606.7 449.3L607.7 449.5L608.7 449.4L609.7 449.4L610.7 449.5L611.7 449.3L612.7 448.9L613.7 448.9L614.7 448.9L615.7 449.3L616.7 449.9L617.7 450.0L618.7 449.5L619.7 449.1L620.7 448.9L621.7 449.0L622.7 449.2L623.7 449.3L624.7 449.1L625.7 449.2L626.7 449.4L627.7 449.6L628.7 449.7L629.7 449.5L630.7 449.3L631.7 449.2L632.7 449.3L633.7 449.3L634.7 449.1L635.7 449.2L636.7 449.3L637.7 449.0L638.7 449.2L639.7 449.5L640.7 449.3L641.7 449.0L642.7 449.1L643.7 449.3L644.7 449.3L645.7 449.2L646.7 449.1L647.7 449.1L648.7 449.3L649.7 449.3L650.7 449.1L651.7 449.2L652.7 449.5L653.7 449.9L654.7 449.8L655.7 449.3L656.7 449.3L657.7 449.2L658.7 449.2L659.7 449.7L660.7 450.0L661.7 449.8L662.7 449.8L663.7 449.8L664.7 449.7L665.7 449.6L666.7 449.7L667.7 449.9L668.7 449.7L669.7 449.2L670.7 449.1L671.7 449.3L672.7 449.4L673.7 449.4L674.7 449.7L675.7 449.9L676.7 449.7L677.7 449.5L678.7 449.4L679.7 449.3L680.7 449.3L681.7 449.3L682.7 449.6L683.7 449.5L684.7 449.1L685.7 449.0L686.7 449.3L687.7 449.4L688.7 449.3L689.7 449.2L690.7 449.4L691.7 449.3L692.7 449.2L693.7 449.4L694.7 449.2L695.7 448.8L696.7 448.4L697.7 448.0L698.7 447.5L699.7 447.4L700.7 447.4L701.7 447.1L702.7 447.4L703.7 448.2L704.7 448.5L705.7 448.8L706.7 449.1L707.7 449.2L708.7 449.2L709.7 449.2L710.7 449.1L711.7 449.3L712.7 449.3L713.7 449.3L714.7 449.3L715.7 449.4L716.7 449.4L717.7 449.3L718.7 449.4L719.7 449.7L720.7 449.6L721.7 449.3L722.7 449.6L723.7 449.7L724.7 449.2L725.7 449.2L726.7 449.8L727.7 449.8L728.7 449.4L729.7 449.6L730.7 449.7L731.7 449.5L732.7 449.4L733.7 449.4L734.7 449.5L735.7 449.5L736.7 449.2L737.7 449.1L738.7 449.4L739.7 449.5L740.7 449.1L741.7 448.8L742.7 448.8L743.7 449.2L744.7 449.8L745.7 449.9L746.7 449.9L747.7 449.6L748.7 449.1L749.7 449.3L750.7 449.8L751.7 450.0L752.7 450.0L753.7 449.9L754.7 449.8L755.7 449.8L756.7 449.8L757.7 449.3L758.7 448.9L759.7 448.9L760.7 448.8L761.7 449.0L762.7 449.3L763.7 449.1L764.7 448.9L765.7 448.9L766.7 449.1L767.7 449.4L768.7 449.6L769.7 449.6L770.7 449.1L771.7 448.8L772.7 449.1L773.7 449.6L774.7 449.7L775.7 449.7L776.7 449.5L777.7 449.3L778.7 449.4L779.7 449.5L780.7 449.4L781.7 449.5L782.7 449.5L783.7 449.2L784.7 449.0L785.7 449.2L786.7 449.4L787.7 449.3L788.7 449.0L789.7 449.2L790.7 449.3L791.7 449.3L792.7 449.5L793.7 449.8L794.7 449.8L795.7 449.6L796.7 449.5L797.7 449.8L798.7 449.9L799.7 449.4L800.7 448.8L801.7 449.0L802.7 449.6L803.7 449.9L804.7 449.7L805.7 449.5L806.7 449.3L807.7 449.1L808.7 449.5L809.7 449.7L810.7 449.4L811.7 449.5L812.7 449.8L813.7 449.6L814.7 449.2L815.7 449.2L816.7 449.6L817.7 450.0L818.7 449.8L819.7 449.6L820.7 449.7L821.7 449.7L822.7 449.5L823.7 449.5L824.7 449.3L825.7 448.9L826.7 448.9L827.7 449.5L828.7 449.5L829.7 448.9L830.7 448.8L831.7 448.9L832.7 449.2L833.7 449.3L834.7 449.3L835.7 449.3L836.7 449.4L837.7 449.4L838.7 449.6L839.7 449.5L840.7 449.4L841.7 449.5L842.7 449.2L843.7 449.3L844.7 449.7L845.7 449.8L846.7 449.5L847.7 449.4L848.7 449.4L849.7 449.1L850.7 449.0L851.7 449.4L852.7 449.5L853.7 449.4L854.7 449.5L855.7 449.7L856.7 449.8L857.7 449.7L858.7 449.2L859.7 449.2L860.7 449.7L861.7 450.0L862.7 449.8L863.7 449.6L864.7 449.5L865.7 449.7L866.7 449.8L867.7 449.7L868.7 449.4L869.7 449.7L870.7 449.9L871.7 449.4L872.7 448.8L873.7 448.9L874.7 449.3L875.7 449.5L876.7 449.7L877.7 449.7L878.7 449.4L879.7 449.1L880.7 449.3L881.7 449.6L882.7 449.9L883.7 449.7L884.7 449.2L885.7 449.3L886.7 449.5L887.7 448.9L888.7 448.6L889.7 448.9L890.7 449.2L891.7 449.2L892.7 449.4L893.7 449.6L894.7 449.3L895.7 448.9L896.7 449.1L897.7 449.3L898.7 449.3L899.7 449.3L900.7 449.2L901.7 449.0L902.7 448.8L903.7 448.3L904.7 447.6L905.7 447.5L906.7 447.2L907.7 445.9L908.7 443.6L909.7 439.6L910.7 432.8L911.7 423.9L912.7 416.5L913.7 416.3L914.7 423.1L915.7 431.8L916.7 438.8L917.7 443.4L918.7 445.6L919.7 446.6L920.7 447.3L921.7 447.6L922.7 447.7L923.7 447.8L924.7 448.0L925.7 448.3L926.7 448.5L927.7 448.4L928.7 448.2L929.7 447.7L930.7 447.2L931.7 446.8L932.7 446.0L933.7 445.5L934.7 445.5L935.7 445.8L936.7 445.9L937.7 446.1L938.7 447.0L939.7 448.1L940.7 448.5L941.7 448.3L942.7 448.3L943.7 448.6L944.7 449.0L945.7 449.0L946.7 449.2L947.7 449.2L948.7 449.3L949.7 449.3L950.7 449.1L951.7 449.2L952.7 449.3L953.7 449.1L954.7 449.2L955.7 449.6L956.7 449.6L957.7 449.2L958.7 448.9L959.7 449.2L960.7 449.4L961.7 449.5L962.7 449.5L963.7 449.2L964.7 449.2L965.7 449.2L966.7 449.1L967.7 449.2L968.7 449.2L969.7 449.3L970.7 449.7L971.7 450.0L972.7 449.8L973.7 449.3L974.7 449.1"/>
<path stroke="#000000" d="M84.7 646.1L85.7 645.9L86.7 645.8L87.7 645.9L88.7 646.0L89.7 646.0L90.7 645.9L91.7 645.9L92.7 646.1L93.7 646.2L94.7 646.1L95.7 646.1L96.7 646.0L97.7 645.9L98.7 645.9L99.7 645.9L100.7 645.9L101.7 645.9L102.7 645.8L103.7 645.9L104.7 646.1L105.7 646.2L106.7 646.1L107.7 646.0L108.7 646.0L109.7 646.0L110.7 646.0L111.7 646.0L112.7 646.0L113.7 646.0L114.7 646.1L115.7 645.9L116.7 645.8L117.7 645.9L118.7 646.0L119.7 646.0L120.7 645.9L121.7 645.9L122.7 645.9L123.7 645.9L124.7 645.9L125.7 645.9L126.7 646.0L127.7 646.0L128.7 646.1L129.7 646.1L130.7 646.0L131.7 646.1L132.7 646.1L133.7 646.0L134.7 646.0L135.7 646.0L136.7 646.1L137.7 646.0L138.7 646.0L139.7 646.0L140.7 646.0L141.7 646.0L142.7 646.1L143.7 646.0L144.7 646.0L145.7 646.0L146.7 646.0L147.7 645.9L148.7 645.9L149.7 645.9L150.7 645.9L151.7 646.0L152.7 646.1L153.7 646.1L154.7 646.1L155.7 646.0L156.7 646.0L157.7 646.0L158.7 645.9L159.7 645.9L160.7 646.0L161.7 645.9L162.7 645.9L163.7 645.9L164.7 645.9L165.7 645.9L166.7 645.9L167.7 645.9L168.7 646.0L169.7 646.1L170.7 646.2L171.7 646.1L172.7 646.0L173.7 646.0L174.7 646.1L175.7 646.0L176.7 645.9L177.7 645.9L178.7 646.0L179.7 646.0L180.7 646.0L181.7 645.9L182.7 645.9L183.7 646.0L184.7 646.2L185.7 646.1L186.7 645.9L187.7 646.0L188.7 646.0L189.7 645.9L190.7 645.9L191.7 645.9L192.7 645.8L193.7 645.8L194.7 645.9L195.7 646.0L196.7 646.0L197.7 646.1L198.7 646.1L199.7 646.0L200.7 646.0L201.7 646.1L202.7 646.0L203.7 645.9L204.7 645.8L205.7 645.8L206.7 645.8L207.7 645.9L208.7 645.9L209.7 645.9L210.7 645.8L211.7 645.8L212.7 645.8L213.7 645.9L214.7 645.9L215.7 645.9L216.7 645.9L217.7 645.8L218.7 645.6L219.7 645.5L220.7 645.1L221.7 644.5L222.7 643.6L223.7 642.7L224.7 641.7L225.7 641.1L226.7 641.2L227.7 642.0L228.7 643.1L229.7 644.1L230.7 644.8L231.7 645.3L232.7 645.5L233.7 645.6L234.7 645.7L235.7 645.8L236.7 645.9L237.7 645.9L238.7 645.8L239.7 645.7L240.7 645.8L241.7 645.9L242.7 646.0L243.7 646.1L244.7 646.0L245.7 645.9L246.7 645.9L247.7 645.9L248.7 645.8L249.7 645.9L250.7 645.9L251.7 645.9L252.7 645.9L253.7 646.0L254.7 646.0L255.7 645.9L256.7 645.9L257.7 645.9L258.7 645.9L259.7 645.9L260.7 645.8L261.7 645.7L262.7 645.7L263.7 645.9L264.7 646.0L265.7 646.0L266.7 646.0L267.7 646.1L268.7 646.0L269.7 645.9L270.7 645.8L271.7 645.8L272.7 645.8L273.7 645.8L274.7 645.8L275.7 645.8L276.7 645.9L277.7 645.8L278.7 645.8L279.7 645.9L280.7 645.9L281.7 645.9L282.7 646.0L283.7 646.0L284.7 645.9L285.7 645.8L286.7 645.7L287.7 645.8L288.7 645.9L289.7 645.8L290.7 645.7L291.7 645.9L292.7 645.9L293.7 645.9L294.7 645.9L295.7 645.9L296.7 645.7L297.7 645.7L298.7 645.8L299.7 645.8L300.7 645.7L301.7 645.6L302.7 645.6L303.7 645.6L304.7 645.7L305.7 645.7L306.7 645.6L307.7 645.6L308.7 645.6L309.7 645.5L310.7 645.5L311.7 645.6L312.7 645.6L313.7 645.5L314.7 645.5L315.7 645.5L316.7 645.5L317.7 645.3L318.7 645.2L319.7 645.1L320.7 645.0L321.7 645.0L322.7 644.9L323.7 644.8L324.7 644.7L325.7 644.6L326.7 644.5L327.7 644.4L328.7 644.2L329.7 644.1L330.7 643.9L331.7 643.6L332.7 643.1L333.7 642.5L334.7 641.9L335.7 641.1L336.7 640.0L337.7 638.4L338.7 636.0L339.7 631.6L340.7 622.3L341.7 603.5L342.7 569.9L343.7 521.9L344.7 477.0L345.7 471.4L346.7 511.3L347.7 560.8L348.7 597.8L349.7 618.9L350.7 629.0L351.7 633.1L352.7 634.0L353.7 633.2L354.7 631.4L355.7 630.2L356.7 631.4L357.7 634.6L358.7 638.0L359.7 640.5L360.7 642.2L361.7 643.2L362.7 643.6L363.7 643.9L364.7 644.1L365.7 644.5L366.7 644.7L367.7 644.9L368.7 645.0L369.7 644.9L370.7 645.0L371.7 645.0L372.7 645.2L373.7 645.3L374.7 645.3L375.7 645.3L376.7 645.4L377.7 645.5L378.7 645.6L379.7 645.6L380.7 645.6L381.7 645.6L382.7 645.5L383.7 645.6L384.7 645.8L385.7 645.8L386.7 645.7L387.7 645.6L388.7 645.6L389.7 645.7L390.7 645.8L391.7 645.7L392.7 645.6L393.7 645.7L394.7 645.8L395.7 645.7L396.7 645.7L397.7 645.7L398.7 645.7L399.7 645.6L400.7 645.6L401.7 645.7L402.7 645.8L403.7 645.7L404.7 645.6L405.7 645.7L406.7 645.7L407.7 645.8L408.7 645.8L409.7 645.9L410.7 645.8L411.7 645.7L412.7 645.7L413.7 645.8L414.7 645.9L415.7 645.9L416.7 645.9L417.7 645.8L418.7 645.8L419.7 645.9L420.7 645.8L421.7 645.7L422.7 645.7L423.7 645.8L424.7 645.9L425.7 645.8L426.7 645.7L427.7 645.7L428.7 645.8L429.7 645.9L430.7 645.7L431.7 645.8L432.7 645.9L433.7 645.9L434.7 645.8L435.7 645.9L436.7 646.0L437.7 645.9L438.7 645.8L439.7 645.9L440.7 645.9L441.7 645.9L442.7 645.9L443.7 645.9L444.7 645.7L445.7 645.6L446.7 645.6L447.7 645.6L448.7 645.8L449.7 645.7L450.7 645.7L451.7 645.6L452.7 645.6L453.7 645.6L454.7 645.6L455.7 645.6L456.7 645.6L457.7 645.6L458.7 645.5L459.7 645.4L460.7 645.2L461.7 645.1L462.7 645.1L463.7 644.9L464.7 644.7L465.7 644.5L466.7 644.3L467.7 643.9L468.7 643.4L469.7 642.7L470.7 641.4L471.7 639.3L472.7 634.9L473.7 625.7L474.7 609.7L475.7 588.7L476.7 573.0L477.7 577.6L478.7 597.5L479.7 617.0L480.7 629.9L481.7 636.6L482.7 639.5L483.7 640.4L484.7 640.3L485.7 639.6L486.7 639.2L487.7 639.8L488.7 641.1L489.7 642.5L490.7 643.6L491.7 644.2L492.7 644.6L493.7 644.9L494.7 645.0L495.7 645.2L496.7 645.4L497.7 645.5L498.7 645.4L499.7 645.4L500.7 645.5L501.7 645.5L502.7 645.5L503.7 645.7L504.7 645.8L505.7 645.7L506.7 645.8L507.7 645.8L508.7 645.8L509.7 645.7L510.7 645.6L511.7 645.7L512.7 645.9L513.7 645.9L514.7 645.8L515.7 645.8L516.7 645.8L517.7 645.9L518.7 645.9L519.7 645.9L520.7 645.9L521.7 645.8L522.7 645.9L523.7 645.9L524.7 645.7L525.7 645.7L526.7 645.8L527.7 646.0L528.7 646.0L529.7 646.0L530.7 646.0L531.7 646.0L532.7 645.9L533.7 645.9L534.7 646.0L535.7 646.0L536.7 646.0L537.7 645.9L538.7 645.9L539.7 645.9L540.7 645.9L541.7 646.0L542.7 646.0L543.7 645.9L544.7 645.9L545.7 645.9L546.7 645.9L547.7 646.0L548.7 646.1L549.7 646.0L550.7 645.9L551.7 645.9L552.7 645.9L553.7 645.9L554.7 645.9L555.7 646.0L556.7 645.9L557.7 645.9L558.7 645.9L559.7 645.8L560.7 645.9L561.7 646.0L562.7 646.0L563.7 645.9L564.7 645.9L565.7 646.0L566.7 645.9L567.7 645.9L568.7 646.0L569.7 646.1L570.7 646.0L571.7 645.9L572.7 645.9L573.7 645.9L574.7 645.9L575.7 646.0L576.7 646.0L577.7 646.0L578.7 646.0L579.7 646.0L580.7 646.1L581.7 646.0L582.7 646.0L583.7 646.0L584.7 646.1L585.7 646.1L586.7 646.1L587.7 646.1L588.7 646.0L589.7 646.0L590.7 646.1L591.7 646.0L592.7 645.8L593.7 645.8L594.7 645.9L595.7 645.9L596.7 645.9L597.7 646.0L598.7 646.0L599.7 646.0L600.7 646.0L601.7 645.9L602.7 646.0L603.7 646.1L604.7 646.1L605.7 646.0L606.7 645.9L607.7 645.9L608.7 645.9L609.7 645.9L610.7 645.8L611.7 645.9L612.7 646.1L613.7 646.1L614.7 646.0L615.7 645.9L616.7 645.9L617.7 646.0L618.7 646.1L619.7 646.0L620.7 646.0L621.7 646.0L622.7 646.0L623.7 645.9L624.7 645.8L625.7 645.9L626.7 646.0L627.7 645.9L628.7 645.9L629.7 645.9L630.7 645.9L631.7 646.0L632.7 646.0L633.7 645.9L634.7 646.0L635.7 646.1L636.7 646.2L637.7 646.1L638.7 646.0L639.7 646.0L640.7 646.0L641.7 646.0L642.7 646.0L643.7 646.0L644.7 646.0L645.7 645.9L646.7 645.8L647.7 645.9L648.7 646.0L649.7 646.1L650.7 646.0L651.7 645.9L652.7 646.0L653.7 646.0L654.7 646.1L655.7 646.1L656.7 646.0L657.7 646.0L658.7 646.0L659.7 645.9L660.7 645.9L661.7 646.0L662.7 646.0L663.7 646.0L664.7 646.0L665.7 646.0L666.7 645.9L667.7 645.8L668.7 645.9L669.7 646.0L670.7 646.0L671.7 645.9L672.7 646.0L673.7 646.1L674.7 646.0L675.7 645.9L676.7 645.9L677.7 646.0L678.7 646.0L679.7 645.9L680.7 646.0L681.7 646.0L682.7 646.0L683.7 645.9L684.7 645.9L685.7 645.9L686.7 645.8L687.7 645.9L688.7 646.0L689.7 645.9L690.7 645.8L691.7 645.6L692.7 645.7L693.7 645.6L694.7 645.4L695.7 645.1L696.7 644.9L697.7 644.4L698.7 643.7L699.7 643.3L700.7 643.1L701.7 643.2L702.7 643.7L703.7 644.2L704.7 644.7L705.7 645.1L706.7 645.4L707.7 645.6L708.7 645.7L709.7 645.7L710.7 645.8L711.7 645.8L712.7 645.9L713.7 645.9L714.7 645.9L715.7 646.0L716.7 646.1L717.7 646.0L718.7 645.9L719.7 645.9L720.7 646.0L721.7 646.0L722.7 646.0L723.7 646.0L724.7 645.9L725.7 646.0L726.7 646.0L727.7 646.0L728.7 646.0L729.7 645.9L730.7 645.9L731.7 645.9L732.7 646.0L733.7 645.9L734.7 645.9L735.7 646.0L736.7 646.0L737.7 646.1L738.7 646.1L739.7 646.0L740.7 646.0L741.7 646.0L742.7 646.0L743.7 646.0L744.7 646.0L745.7 646.0L746.7 646.1L747.7 646.1L748.7 646.0L749.7 646.0L750.7 645.9L751.7 645.9L752.7 645.9L753.7 646.0L754.7 645.9L755.7 645.9L756.7 646.0L757.7 646.0L758.7 646.0L759.7 645.9L760.7 645.9L761.7 646.0L762.7 645.9L763.7 645.9L764.7 646.0L765.7 645.9L766.7 645.8L767.7 645.9L768.7 646.0L769.7 646.0L770.7 646.0L771.7 646.0L772.7 646.0L773.7 645.9L774.7 645.8L775.7 645.9L776.7 646.0L777.7 645.9L778.7 645.9L779.7 645.9L780.7 645.9L781.7 645.8L782.7 645.9L783.7 646.0L784.7 645.9L785.7 645.9L786.7 645.9L787.7 645.9L788.7 646.0L789.7 646.0L790.7 646.1L791.7 646.0L792.7 645.9L793.7 645.9L794.7 646.0L795.7 646.1L796.7 646.1L797.7 646.1L798.7 646.1L799.7 646.1L800.7 646.0L801.7 646.0L802.7 646.1L803.7 646.1L804.7 646.0L805.7 646.1L806.7 646.1L807.7 646.0L808.7 646.0L809.7 646.0L810.7 646.0L811.7 645.9L812.7 645.9L813.7 645.9L814.7 645.9L815.7 646.0L816.7 646.0L817.7 646.0L818.7 645.9L819.7 645.9L820.7 645.9L821.7 646.0L822.7 646.1L823.7 646.1L824.7 645.9L825.7 645.9L826.7 646.1L827.7 646.1L828.7 646.0L829.7 645.8L830.7 645.8L831.7 646.0L832.7 646.0L833.7 646.0L834.7 645.9L835.7 645.9L836.7 645.9L837.7 646.0L838.7 646.0L839.7 645.9L840.7 645.9L841.7 645.9L842.7 646.0L843.7 646.1L844.7 646.0L845.7 646.0L846.7 646.0L847.7 645.9L848.7 645.9L849.7 646.0L850.7 645.9L851.7 645.8L852.7 645.9L853.7 646.0L854.7 645.9L855.7 645.8L856.7 645.9L857.7 645.9L858.7 645.9L859.7 645.9L860.7 646.0L861.7 646.0L862.7 645.9L863.7 645.9L864.7 645.8L865.7 645.8L866.7 645.9L867.7 645.9L868.7 646.0L869.7 646.0L870.7 645.9L871.7 645.8L872.7 645.9L873.7 645.8L874.7 645.8L875.7 645.8L876.7 645.8L877.7 645.8L878.7 646.0L879.7 646.0L880.7 645.9L881.7 645.8L882.7 645.9L883.7 645.9L884.7 646.0L885.7 645.9L886.7 645.8L887.7 645.9L888.7 645.9L889.7 645.8L890.7 645.8L891.7 645.7L892.7 645.6L893.7 645.6L894.7 645.6L895.7 645.6L896.7 645.5L897.7 645.5L898.7 645.5L899.7 645.5L900.7 645.5L901.7 645.4L902.7 645.2L903.7 645.0L904.7 644.8L905.7 644.5L906.7 643.9L907.7 642.8L908.7 640.5L909.7 636.4L910.7 630.0L911.7 621.7L912.7 614.8L913.7 614.8L914.7 621.6L915.7 629.9L916.7 636.4L917.7 640.4L918.7 642.6L919.7 643.7L920.7 644.3L921.7 644.7L922.7 644.9L923.7 645.1L924.7 645.3L925.7 645.3L926.7 645.2L927.7 645.0L928.7 644.9L929.7 644.6L930.7 644.2L931.7 643.8L932.7 643.4L933.7 642.9L934.7 642.7L935.7 642.9L936.7 643.2L937.7 643.7L938.7 644.2L939.7 644.7L940.7 645.1L941.7 645.4L942.7 645.6L943.7 645.7L944.7 645.7L945.7 645.7L946.7 645.8L947.7 645.8L948.7 645.7L949.7 645.7L950.7 645.8L951.7 645.8L952.7 645.7L953.7 645.8L954.7 645.9L955.7 645.8L956.7 645.8L957.7 645.8L958.7 645.8L959.7 645.8L960.7 645.8L961.7 645.8L962.7 645.9L963.7 646.0L964.7 646.1L965.7 646.0L966.7 645.9L967.7 645.8L968.7 645.8L969.7 645.9L970.7 646.0L971.7 645.9L972.7 645.9L973.7 646.0L974.7 645.8"/>
</g>
<rect x="83.7" y="2.5" width="892.5" height="701.9" fill="none" stroke="#000" stroke-width="2.5"/>
<path stroke="#000" stroke-width="2.5" d="M83.7 704.4V717.4M172.9 704.4V710.9M262.2 704.4V717.4M351.4 704.4V710.9M440.7 704.4V717.4M530.0 704.4V710.9M619.2 704.4V717.4M708.5 704.4V710.9M797.7 704.4V717.4M887.0 704.4V710.9M976.2 704.4V717.4"/>
<g clip-path="url(#cb)" fill="none" stroke-linejoin="round" stroke-linecap="round" stroke-width="4.5">
<path stroke="#ff0000" d="M92.0 1312.5L93.8 1304.0L98.8 1297.5L102.5 1322.5L107.5 1324.0L110.8 1297.5L115.0 1325.0L118.8 1316.0L123.8 1321.0L128.8 1324.0L132.5 1327.5L140.0 1310.0L146.0 1316.0L152.5 1322.5L156.0 1329.0L161.0 1317.5L167.5 1320.0L172.5 1322.5L176.0 1331.0L181.0 1316.0L185.0 1336.0L190.0 1316.0L196.0 1311.0L202.0 1329.0L206.0 1312.5L211.0 1331.0L219.0 1319.0L223.0 1330.0L227.0 1317.5L231.0 1309.0L235.5 1335.0L240.0 1312.5L244.0 1327.5L249.0 1314.0L252.0 1324.0L256.0 1301.0L261.0 1292.5L267.5 1261.0L273.0 1252.0L277.5 1259.0L281.0 1259.0L285.0 1291.0L290.0 1306.0L294.0 1322.5L297.5 1309.0L302.0 1345.0L306.0 1325.0L311.0 1314.0L315.0 1322.5L319.0 1316.0L325.0 1322.5L331.0 1327.5L335.0 1319.0L342.5 1319.0L347.5 1331.0L351.0 1320.0L355.0 1322.5L365.0 1305.0L371.0 1304.0L376.0 1337.5L384.0 1311.0L390.0 1325.0L396.0 1339.0L401.0 1307.5L405.0 1339.0L411.0 1319.0L417.5 1311.0L422.5 1330.0L426.0 1297.5L430.0 1297.0L434.5 1330.0L441.0 1322.5L446.0 1320.0L451.0 1340.0L455.0 1310.0L459.0 1325.0L462.5 1309.0L467.5 1305.0L472.0 1309.0L477.5 1325.0L482.5 1327.5L487.5 1321.0L492.5 1311.0L496.0 1331.0L501.0 1311.0L507.5 1324.0L513.0 1337.0L517.5 1315.0L521.0 1310.0L528.0 1318.0L536.0 1305.0L540.8 1270.0L545.6 1228.4L550.4 1237.2L558.4 1242.8L564.0 1246.8L568.0 1245.2L571.2 1250.0L575.2 1240.4L579.2 1258.8L584.0 1246.0L587.2 1215.6L590.4 1185.2L592.0 1170.0L596.8 1177.2L600.0 1199.6L604.8 1210.8L608.8 1223.6L612.8 1211.6L616.8 1213.2L621.6 1211.6L625.6 1252.4L628.0 1290.0L632.0 1314.0L638.0 1312.0L642.0 1330.0L650.0 1320.0L660.0 1328.0L668.0 1323.0L678.0 1330.0L682.0 1327.0L687.0 1309.0L691.0 1348.0L695.4 1327.8L699.5 1329.0L703.5 1319.7L711.6 1329.0L716.5 1319.7L720.2 1329.0L725.1 1319.7L729.2 1331.8L731.8 1302.0L737.3 1302.0L742.7 1280.5L749.4 1259.4L754.8 1272.4L760.2 1296.7L766.1 1298.0L773.7 1325.0L779.1 1326.4L783.2 1321.0L786.7 1327.8L791.3 1307.5L795.3 1341.2L803.9 1300.0L811.5 1329.0L816.9 1322.4L823.7 1318.3L831.8 1330.5L837.2 1318.3L840.7 1327.8L845.3 1317.0L852.0 1329.0L861.5 1311.6L869.6 1342.6L873.6 1317.0L880.4 1321.0L886.6 1314.3L890.3 1334.5L897.9 1304.8L903.8 1317.0L908.7 1312.9L911.4 1317.0L915.4 1301.6L919.5 1333.2L927.6 1312.9L931.7 1327.8L937.1 1318.3L946.0 1311.6"/>
<path stroke="#000000" d="M92.0 1461.0L94.5 1480.0L98.8 1492.5L103.8 1487.5L107.5 1486.0L111.0 1476.0L116.0 1472.5L120.0 1476.0L124.0 1485.0L127.5 1480.0L134.0 1482.5L137.5 1484.0L140.5 1492.5L145.0 1487.5L149.0 1482.5L152.5 1497.5L156.0 1486.0L160.0 1485.0L165.0 1480.0L170.0 1485.0L174.0 1490.0L178.0 1481.0L185.0 1494.0L189.5 1477.5L193.0 1490.0L197.0 1479.0L202.0 1485.0L206.0 1492.5L210.0 1480.0L215.0 1486.0L222.5 1489.0L227.5 1475.0L231.0 1480.0L235.0 1479.0L239.0 1492.5L244.0 1482.5L247.5 1484.0L252.0 1499.0L256.0 1480.0L260.0 1471.0L264.5 1489.0L269.0 1472.5L273.0 1480.0L277.5 1492.5L285.0 1491.0L292.5 1480.0L300.0 1482.5L305.0 1485.0L310.0 1491.0L318.0 1475.0L322.0 1489.0L327.5 1484.0L335.0 1479.0L339.5 1487.5L343.0 1475.0L346.0 1486.0L351.0 1469.0L356.0 1472.5L360.0 1480.0L364.0 1475.0L367.5 1502.5L371.0 1481.0L375.0 1484.0L381.0 1480.0L389.0 1485.0L395.0 1484.0L401.0 1492.5L406.0 1492.5L409.5 1466.0L411.0 1486.0L414.0 1496.0L417.5 1487.5L422.5 1485.0L426.0 1477.5L430.0 1489.0L435.0 1490.0L439.0 1491.0L444.0 1482.5L447.0 1495.0L451.0 1471.0L457.5 1475.0L465.0 1490.0L470.0 1491.0L475.0 1489.0L480.0 1482.5L484.0 1491.0L489.0 1486.0L492.5 1485.0L496.0 1491.0L501.0 1484.0L506.0 1483.0L513.0 1481.0L517.0 1493.0L521.0 1486.0L526.3 1485.7L532.8 1472.6L537.2 1457.3L539.4 1446.3L541.5 1428.0L543.8 1402.6L545.5 1370.0L547.0 1337.0L548.7 1304.0L550.3 1271.3L552.0 1238.0L553.6 1205.6L555.0 1183.0L556.5 1166.3L557.8 1159.0L559.1 1157.5L561.0 1161.0L563.5 1172.8L564.6 1192.0L565.6 1216.6L567.5 1255.0L569.6 1293.2L571.5 1326.0L573.3 1358.8L575.5 1393.0L577.7 1424.5L579.5 1440.0L582.0 1448.5L587.5 1450.7L591.0 1481.0L595.0 1467.0L599.0 1478.0L604.0 1472.0L609.0 1492.0L613.0 1494.0L616.0 1479.0L620.0 1481.0L630.0 1473.0L634.0 1482.0L638.0 1480.0L641.0 1488.0L646.0 1474.0L649.0 1489.0L653.0 1475.0L658.0 1488.0L666.0 1490.0L671.0 1478.0L678.0 1472.0L684.0 1482.0L690.0 1477.8L695.4 1480.5L700.8 1487.3L706.7 1467.0L711.0 1481.9L715.7 1460.3L719.7 1485.9L725.1 1491.3L729.2 1480.5L734.6 1487.3L740.0 1487.3L745.4 1492.7L749.4 1476.5L752.6 1490.0L761.6 1465.7L769.7 1491.3L777.8 1475.1L781.8 1484.6L791.3 1467.0L796.7 1480.5L803.4 1473.8L811.5 1464.3L819.6 1473.8L827.7 1488.6L835.8 1471.1L841.2 1468.4L845.3 1481.9L852.5 1458.9L860.1 1492.7L865.5 1480.5L872.3 1491.3L877.7 1475.1L884.4 1477.8L889.8 1468.4L895.2 1484.6L904.7 1488.6L911.4 1479.2L915.4 1492.7L922.2 1476.5L927.6 1499.4L931.7 1481.9L938.4 1488.6L942.5 1490.0L946.5 1472.4"/>
<path stroke="#0000ff" d="M92.0 1162.5L94.5 1152.5L98.8 1158.8L102.5 1141.0L106.0 1141.0L111.0 1104.0L115.0 1154.0L119.5 1119.0L122.5 1147.5L128.0 1180.0L132.5 1157.5L136.0 1146.0L144.0 1174.0L149.0 1135.0L152.5 1149.0L157.5 1145.0L160.0 1146.0L165.0 1167.5L170.0 1170.0L174.0 1165.0L177.5 1135.0L182.5 1145.0L186.0 1165.0L190.0 1151.0L194.0 1166.0L199.0 1160.0L202.5 1162.5L207.5 1149.0L214.5 1180.0L219.0 1144.0L224.0 1161.0L227.5 1165.0L232.0 1135.0L236.0 1182.5L240.0 1146.0L245.0 1140.0L249.0 1137.5L252.5 1126.0L256.0 1140.0L261.0 1151.0L265.0 1109.0L270.0 1087.5L274.0 1080.0L277.0 1100.0L281.0 1074.0L285.0 1092.5L289.0 1125.0L294.0 1174.0L297.5 1150.0L302.0 1125.0L306.0 1166.0L311.0 1157.5L317.5 1155.0L322.0 1150.0L326.0 1172.5L330.0 1160.0L335.0 1137.5L339.5 1189.0L343.0 1144.0L347.0 1155.0L351.0 1147.5L355.0 1152.5L360.0 1177.5L364.0 1132.5L368.0 1100.0L372.5 1135.0L376.0 1152.5L380.5 1106.0L384.0 1135.0L389.0 1145.0L392.5 1169.0L396.0 1146.0L401.0 1147.5L405.0 1137.5L409.5 1159.0L414.0 1152.5L419.0 1157.5L424.0 1165.0L426.0 1157.5L430.0 1182.5L434.5 1147.5L438.0 1172.5L442.5 1162.5L447.5 1172.5L451.0 1167.5L455.0 1136.0L459.5 1175.0L464.0 1164.0L467.5 1112.5L470.0 1077.5L472.5 1060.0L476.0 1050.0L477.8 1000.0L477.8 955.0L479.0 916.0L481.0 877.0L483.0 829.0L484.0 800.0L526.0 800.0L526.6 829.0L529.2 877.0L531.0 916.0L531.8 955.0L533.7 974.5L535.0 955.0L536.3 916.0L537.6 877.0L539.0 829.0L540.0 800.0L620.0 800.0L620.4 830.0L621.2 891.0L622.7 959.0L626.5 982.0L630.3 1012.0L633.3 1058.0L634.0 1073.0L636.0 1066.0L638.0 1070.0L640.0 1114.0L643.0 1126.0L647.0 1136.0L650.0 1150.0L654.0 1124.0L658.0 1138.0L663.0 1150.0L667.0 1172.0L671.0 1164.0L675.0 1156.0L679.0 1139.0L683.0 1170.0L687.0 1138.0L691.0 1167.0L696.0 1163.0L701.0 1158.0L704.0 1125.0L708.0 1160.0L712.0 1126.0L716.0 1155.0L720.6 1110.0L725.0 1136.0L729.0 1145.0L733.0 1177.0L736.0 1128.0L742.0 1114.0L745.0 1090.0L750.0 1072.0L752.0 1040.0L753.6 1009.0L755.0 1048.0L759.0 1078.0L763.0 1120.0L769.0 1150.0L774.0 1171.0L778.0 1160.0L783.0 1124.0L787.0 1180.0L795.0 1159.0L800.0 1168.0L803.4 1160.0L808.0 1169.0L812.0 1142.0L816.0 1169.6L820.5 1150.7L824.0 1168.7L828.0 1126.4L834.0 1131.0L838.5 1135.4L844.8 1128.2L848.4 1092.2L853.4 1076.0L857.4 1095.8L865.5 1099.4L868.2 1126.4L873.6 1175.9L878.0 1145.3L881.7 1162.4L886.2 1121.9L890.7 1131.8L896.0 1126.4L903.3 1109.3L907.8 1143.5L915.0 1142.6L923.1 1176.8L932.1 1117.4L936.6 1142.6L940.2 1138.1L943.8 1139.0L947.0 1128.2"/>
<path stroke="#008000" d="M92.5 993.8L96.2 992.5L102.5 976.0L106.0 994.0L111.0 989.0L119.0 1004.0L122.5 990.0L130.0 992.5L136.0 1001.0L140.0 989.0L144.0 1000.0L147.5 982.5L152.5 979.0L156.0 994.0L160.0 984.0L164.0 986.0L169.0 1002.5L174.0 980.0L177.5 970.0L181.0 982.5L185.0 996.0L190.0 992.5L194.0 997.5L197.5 994.0L202.5 1000.0L210.0 996.0L215.0 982.5L219.0 994.0L222.5 986.0L227.5 1001.0L232.5 994.0L240.0 992.5L244.0 984.0L249.0 990.0L252.5 980.0L257.5 975.0L261.0 977.5L265.0 949.0L269.0 960.0L273.0 936.0L277.0 947.5L281.0 975.0L285.0 967.5L289.0 975.0L292.5 990.0L299.0 980.0L302.5 980.0L306.0 1000.0L310.0 995.0L314.0 1007.5L317.5 990.0L326.0 992.5L331.0 985.0L334.0 986.0L339.0 974.0L342.5 1005.0L347.5 995.0L351.0 982.5L355.0 995.0L359.0 986.0L364.0 974.0L367.5 972.5L371.0 964.0L376.0 950.0L380.0 955.0L384.0 974.0L389.0 969.0L392.5 975.0L397.0 990.0L401.0 961.0L405.0 974.0L410.0 989.0L414.0 1002.5L417.5 990.0L422.5 979.0L426.0 994.0L430.0 979.0L435.0 985.0L439.0 997.5L442.5 976.0L446.0 994.0L450.0 976.0L454.0 1004.0L457.5 985.0L462.5 994.0L467.5 987.5L472.0 998.0L480.4 975.8L484.3 981.0L488.2 998.0L492.0 965.4L496.0 998.0L501.2 977.0L509.0 998.0L515.5 987.5L522.0 983.6L526.0 992.7L531.0 959.0L535.0 953.0L539.0 953.0L542.8 938.0L545.4 903.0L548.0 851.0L548.7 829.0L549.0 800.0L573.0 800.0L574.0 829.0L578.0 877.0L583.8 927.7L588.3 909.5L592.2 864.0L595.5 829.0L596.0 800.0L617.0 800.0L617.4 830.0L622.0 891.0L626.5 929.0L629.5 970.0L634.0 979.0L641.7 997.0L646.0 995.6L650.0 962.0L657.6 1000.0L660.0 1001.0L665.0 991.0L671.0 1005.0L675.0 991.0L680.0 994.0L684.0 987.5L687.5 1007.5L692.5 982.5L696.0 999.0L702.5 987.5L707.5 994.0L715.0 980.0L720.0 955.0L724.0 987.5L729.0 981.0L734.0 1000.0L739.0 972.5L745.0 936.0L750.0 939.0L755.0 935.0L760.0 957.5L765.0 980.0L770.0 974.0L774.0 994.0L777.5 989.0L782.5 1001.0L790.0 995.0L796.0 989.0L800.0 1001.0L804.0 1000.0L808.0 973.0L812.0 999.0L816.0 988.0L820.0 993.0L824.8 1002.4L828.8 985.0L832.8 971.0L836.8 989.0L841.6 977.0L847.2 969.0L852.8 957.0L857.6 959.0L861.6 941.6L865.6 929.0L870.4 951.0L873.6 943.0L878.4 955.0L882.4 935.0L887.2 945.0L892.8 962.4L896.0 967.0L899.2 966.4L902.4 978.4L907.2 978.4L911.2 986.4L915.2 962.4L919.2 981.6L923.2 1000.8L928.0 993.6L936.0 1012.0L939.2 984.0L947.0 984.0"/>
</g>
<rect x="90.8" y="827.6" width="856.8" height="689.8" fill="none" stroke="#000" stroke-width="2.5"/>
<path stroke="#000" stroke-width="2.5" d="M90.8 1517.4V1530.8M197.9 1517.4V1524.2M305.0 1517.4V1530.8M412.1 1517.4V1524.2M519.2 1517.4V1530.8M626.3 1517.4V1524.2M733.4 1517.4V1530.8M840.5 1517.4V1524.2M947.6 1517.4V1530.8"/>
<text transform="translate(59.79 760.28) scale(0.9639 1.0341)" font-size="43.5">30</text>
<text transform="translate(237.56 760.28) scale(0.9945 1.0341)" font-size="43.5">40</text>
<text transform="translate(416.06 760.28) scale(0.9945 1.0341)" font-size="43.5">50</text>
<text transform="translate(594.56 760.28) scale(0.9945 1.0341)" font-size="43.5">60</text>
<text transform="translate(773.06 760.28) scale(0.9945 1.0341)" font-size="43.5">70</text>
<text transform="translate(951.56 760.28) scale(0.9945 1.0341)" font-size="43.5">80</text>
<text transform="translate(48.98 1572.29) scale(0.9852 1.0114)" font-size="43.5">32.5</text>
<text transform="translate(263.18 1572.29) scale(0.9852 1.0114)" font-size="43.5">35.0</text>
<text transform="translate(477.38 1572.29) scale(0.9852 1.0114)" font-size="43.5">37.5</text>
<text transform="translate(691.58 1572.29) scale(0.9852 1.0114)" font-size="43.5">40.0</text>
<text transform="translate(905.78 1572.29) scale(0.9852 1.0114)" font-size="43.5">42.5</text>
<text transform="translate(124.11 41.00) scale(1.0495 0.9892)" font-size="32">Ni</text>
<text transform="translate(141.26 83.76) scale(0.9951 0.9787)" font-size="32">NiO</text>
<text transform="translate(318.11 34.78) scale(1.0811 1.0400)" font-size="27">(111)</text>
<text transform="translate(386.54 225.42) scale(1.0932 1.0292)" font-size="46">Growth without cleaning</text>
<text transform="translate(365.96 331.68) scale(1.0841 1.0430)" font-size="46">Growth after reoxidation</text>
<text transform="translate(375.19 508.08) scale(1.0702 1.0311)" font-size="46">Growth after oxide removal</text>
<text transform="translate(516.09 689.50) scale(1.0422 0.9956)" font-size="46">Pure Ni foam</text>
<text transform="translate(399.63 818.03) scale(1.0519 0.9697)" font-size="44">2<tspan font-family="Liberation Serif">&#952;</tspan> (degrees)</text>
<text transform="translate(389.63 1631.42) scale(1.0519 0.9818)" font-size="44">2<tspan font-family="Liberation Serif">&#952;</tspan> (degrees)</text>
<text transform="translate(35.06 554.14) rotate(-90) scale(1.0215 1.0095)" font-size="45">Intensity (arb. units)</text>
<text transform="translate(58.45 1372.31) rotate(-90) scale(1.0151 1.0000)" font-size="45">Intensity (arb. units)</text>
<text transform="translate(133.96 852.95) scale(1.0577 0.9818)" font-size="31">MnO</text>
<text transform="translate(133.96 894.95) scale(1.0577 1.0091)" font-size="31">MnO</text>
<text transform="translate(205.73 903.00) scale(1.0667 1.0714)" font-size="20">2</text>
<text transform="translate(108.04 853.41) scale(0.9600 0.9164)" font-size="31">&#215;</text>
<text transform="translate(108.16 897.03) scale(0.9600 1.1016)" font-size="31">+</text>
<text transform="translate(234.81 120.35) rotate(-90) scale(1.0559 1.0520)" font-size="27">(111)</text>
<text transform="translate(325.38 120.23) rotate(-90) scale(0.9882 1.0400)" font-size="27">(200)</text>
<text transform="translate(488.85 106.63) rotate(-90) scale(0.9899 1.0280)" font-size="27">(200)</text>
<text transform="translate(671.60 127.73) rotate(-90) scale(0.9899 1.0360)" font-size="27">(220)</text>
<text transform="translate(705.30 127.73) rotate(-90) scale(0.9899 1.0360)" font-size="27">(004)</text>
<text transform="translate(890.81 133.89) rotate(-90) scale(1.0226 1.0160)" font-size="27">(311)</text>
<text transform="translate(922.60 134.41) rotate(-90) scale(0.9798 1.0360)" font-size="27">(220)</text>
<text transform="translate(965.39 133.31) rotate(-90) scale(0.9798 1.0560)" font-size="27">(222)</text>
<text transform="translate(276.67 911.44) rotate(-90) scale(1.0523 1.0240)" font-size="27">(111)</text>
<text transform="translate(382.12 911.33) rotate(-90) scale(0.9866 1.0320)" font-size="27">(100)</text>
<text transform="translate(754.25 911.32) rotate(-90) scale(0.9849 1.0280)" font-size="27">(200)</text>
<text transform="translate(879.35 911.03) rotate(-90) scale(0.9882 1.0280)" font-size="27">(101)</text>
<text transform="translate(277.45 927.63) rotate(-90) scale(1.0128 0.9833)" font-size="27">&#215;</text>
<text transform="translate(383.69 927.93) rotate(-90) scale(0.9811 1.0189)" font-size="27">+</text>
<text transform="translate(754.95 927.63) rotate(-90) scale(1.0128 0.9833)" font-size="27">&#215;</text>
<text transform="translate(880.99 927.93) rotate(-90) scale(0.9811 1.0189)" font-size="27">+</text>
<path fill="#000" d="M118.50 60.50L121.85 68.56L130.55 69.25L123.92 74.93L125.95 83.41L118.50 78.87L111.05 83.41L113.08 74.93L106.45 69.25L115.15 68.56Z"/>
<path fill="#000" d="M215.40 133.10L222.42 130.18L223.03 122.60L227.98 128.37L235.38 126.61L231.41 133.10L235.38 139.59L227.98 137.83L223.03 143.60L222.42 136.02Z"/>
<path fill="#000" d="M306.80 132.85L313.66 130.00L314.25 122.59L319.09 128.23L326.31 126.51L322.44 132.85L326.31 139.19L319.09 137.47L314.25 143.11L313.66 135.70Z"/>
<path fill="#000" d="M652.10 140.05L659.12 137.13L659.73 129.54L664.68 135.32L672.08 133.56L668.12 140.05L672.08 146.54L664.68 144.78L659.73 150.56L659.12 142.97Z"/>
<path fill="#000" d="M685.90 140.05L692.92 137.13L693.53 129.54L698.48 135.32L705.88 133.56L701.92 140.05L705.88 146.54L698.48 144.78L693.53 150.56L692.92 142.97Z"/>
<path fill="#000" d="M872.70 146.40L879.47 143.58L880.06 136.28L884.83 141.84L891.96 140.14L888.14 146.40L891.96 152.66L884.83 150.96L880.06 156.52L879.47 149.22Z"/>
<path fill="#000" d="M946.40 146.40L953.17 143.58L953.76 136.28L958.53 141.84L965.66 140.14L961.84 146.40L965.66 152.66L958.53 150.96L953.76 156.52L953.17 149.22Z"/>
<rect x="106.5" y="25.5" width="8.0" height="7.0" fill="#000"/>
<rect x="310.5" y="21.5" width="6.5" height="6.5" fill="#000"/>
<rect x="476.4" y="108.1" width="6.3" height="6.6" fill="#000"/>
<rect x="910.1" y="136.5" width="6.4" height="6.6" fill="#000"/>
</svg></body></html>
